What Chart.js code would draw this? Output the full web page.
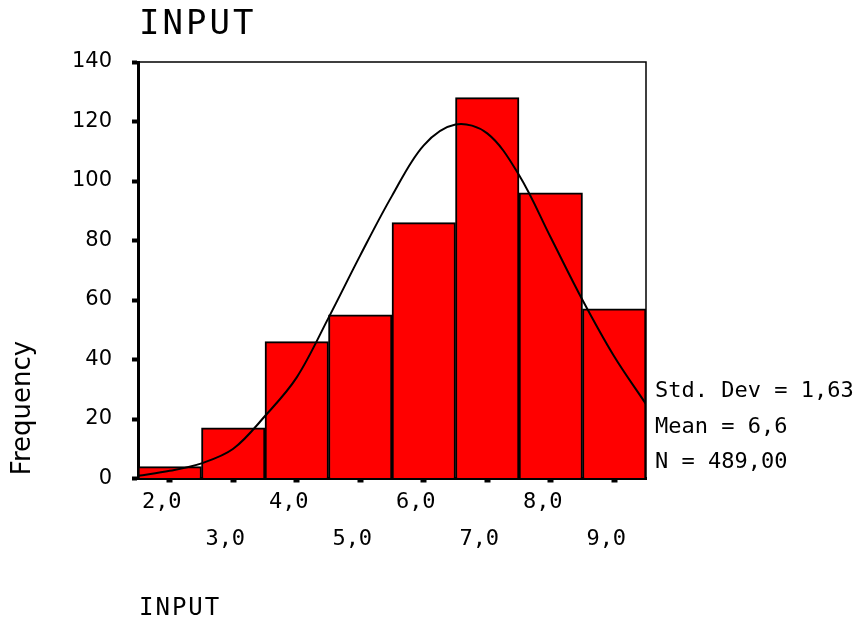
<!DOCTYPE html>
<html>
<head>
<meta charset="utf-8">
<script src="https://cdn.jsdelivr.net/npm/chart.js@4.4.0/dist/chart.umd.min.js"></script>
<style>
  body { margin: 0; background: #fff; }
  canvas { display: block; }
</style>
</head>
<body>
<canvas id="histChart" width="861" height="617"></canvas>
<script>
// histogram bins (centres) and counts
const binCenters = [2, 3, 4, 5, 6, 7, 8, 9];
const frequencies = [4, 17, 46, 55, 86, 128, 96, 57];

// normal curve, every half unit
const curveX = [1.5, 2, 2.5, 3, 3.5, 4, 4.5, 5, 5.5, 6, 6.5, 7, 7.5, 8, 8.5, 9, 9.5];
const curveY = [0.9, 2.6, 5.1, 10, 21, 34, 54, 75, 95, 112, 119, 116, 102, 81, 60, 41, 25];

const yTicks = [0, 20, 40, 60, 80, 100, 120, 140];
const statLines = ["Std. Dev = 1,63", "Mean = 6,6", "N = 489,00"];
const titleText = "INPUT";
const xAxisTitle = "INPUT";
const yAxisTitle = "Frequency";

const fmt = v => v.toFixed(1).replace(".", ",");

// texts around the plot + the thin frame on top/right
const decor = {
  id: "decor",
  afterDraw(chart) {
    const ctx = chart.ctx;
    const a = chart.chartArea;
    ctx.save();
    ctx.strokeStyle = "#000";
    ctx.lineWidth = 1.5;
    ctx.beginPath();
    ctx.moveTo(a.left, a.top);
    ctx.lineTo(a.right, a.top);
    ctx.lineTo(a.right, a.bottom);
    ctx.stroke();

    ctx.fillStyle = "#000";
    ctx.textAlign = "left";
    ctx.textBaseline = "alphabetic";
    ctx.font = "34px 'DejaVu Sans Mono'";
    ctx.letterSpacing = "3px";
    ctx.fillText(titleText, 139, 34);

    ctx.font = "24px 'DejaVu Sans Mono'";
    ctx.letterSpacing = "2px";
    ctx.fillText(xAxisTitle, 139, 615);

    ctx.letterSpacing = "0px";
    ctx.font = "22px 'DejaVu Sans Mono'";
    ctx.textBaseline = "middle";
    const ys = [391, 427, 462];
    statLines.forEach((s, i) => ctx.fillText(s, 655, ys[i]));

    ctx.font = "26px 'DejaVu Sans'";
    ctx.translate(23, 408);
    ctx.rotate(-Math.PI / 2);
    ctx.textAlign = "center";
    ctx.fillText(yAxisTitle, 0, 0);
    ctx.restore();
  }
};

new Chart(document.getElementById("histChart"), {
  type: "bar",
  data: {
    datasets: [
      {
        type: "line",
        data: curveX.map((x, i) => ({ x: x, y: curveY[i] })),
        borderColor: "#000",
        borderWidth: 2,
        pointRadius: 0,
        fill: false,
        tension: 0.35,
        order: 0
      },
      {
        type: "bar",
        data: binCenters.map((x, i) => ({ x: x, y: frequencies[i] })),
        backgroundColor: "#ff0000",
        borderColor: "#000",
        borderWidth: 2,
        barPercentage: 1,
        categoryPercentage: 1,
        order: 1
      }
    ]
  },
  options: {
    responsive: false,
    animation: false,
    layout: { padding: { left: 0, top: 62, right: 215, bottom: 0 } },
    plugins: {
      legend: { display: false },
      tooltip: { enabled: false }
    },
    scales: {
      x: {
        type: "linear",
        min: 1.5,
        max: 9.5,
        offset: false,
        afterBuildTicks: s => { s.ticks = binCenters.map(v => ({ value: v })); },
        afterFit: s => { s.height = 138.5; },
        border: { color: "#000", width: 3 },
        grid: { offset: false, drawOnChartArea: false, tickLength: 4, tickWidth: 6, tickColor: "#000" },
        ticks: {
          autoSkip: false,
          maxRotation: 0,
          padding: 1,
          labelOffset: -8,
          color: "#000",
          font: { family: "DejaVu Sans Mono", size: 22, lineHeight: 37 / 22 },
          callback: v => (v % 2 === 0 ? fmt(v) : ["", fmt(v)])
        }
      },
      y: {
        min: 0,
        max: 140,
        afterBuildTicks: s => { s.ticks = yTicks.map(v => ({ value: v })); },
        afterFit: s => { s.width = 138; },
        border: { color: "#000", width: 3 },
        grid: { drawOnChartArea: false, tickLength: 6, tickWidth: 4, tickColor: "#000" },
        ticks: {
          padding: 20,
          color: "#000",
          font: { family: "DejaVu Sans", size: 21 }
        }
      }
    }
  },
  plugins: [decor]
});
</script>
</body>
</html>
